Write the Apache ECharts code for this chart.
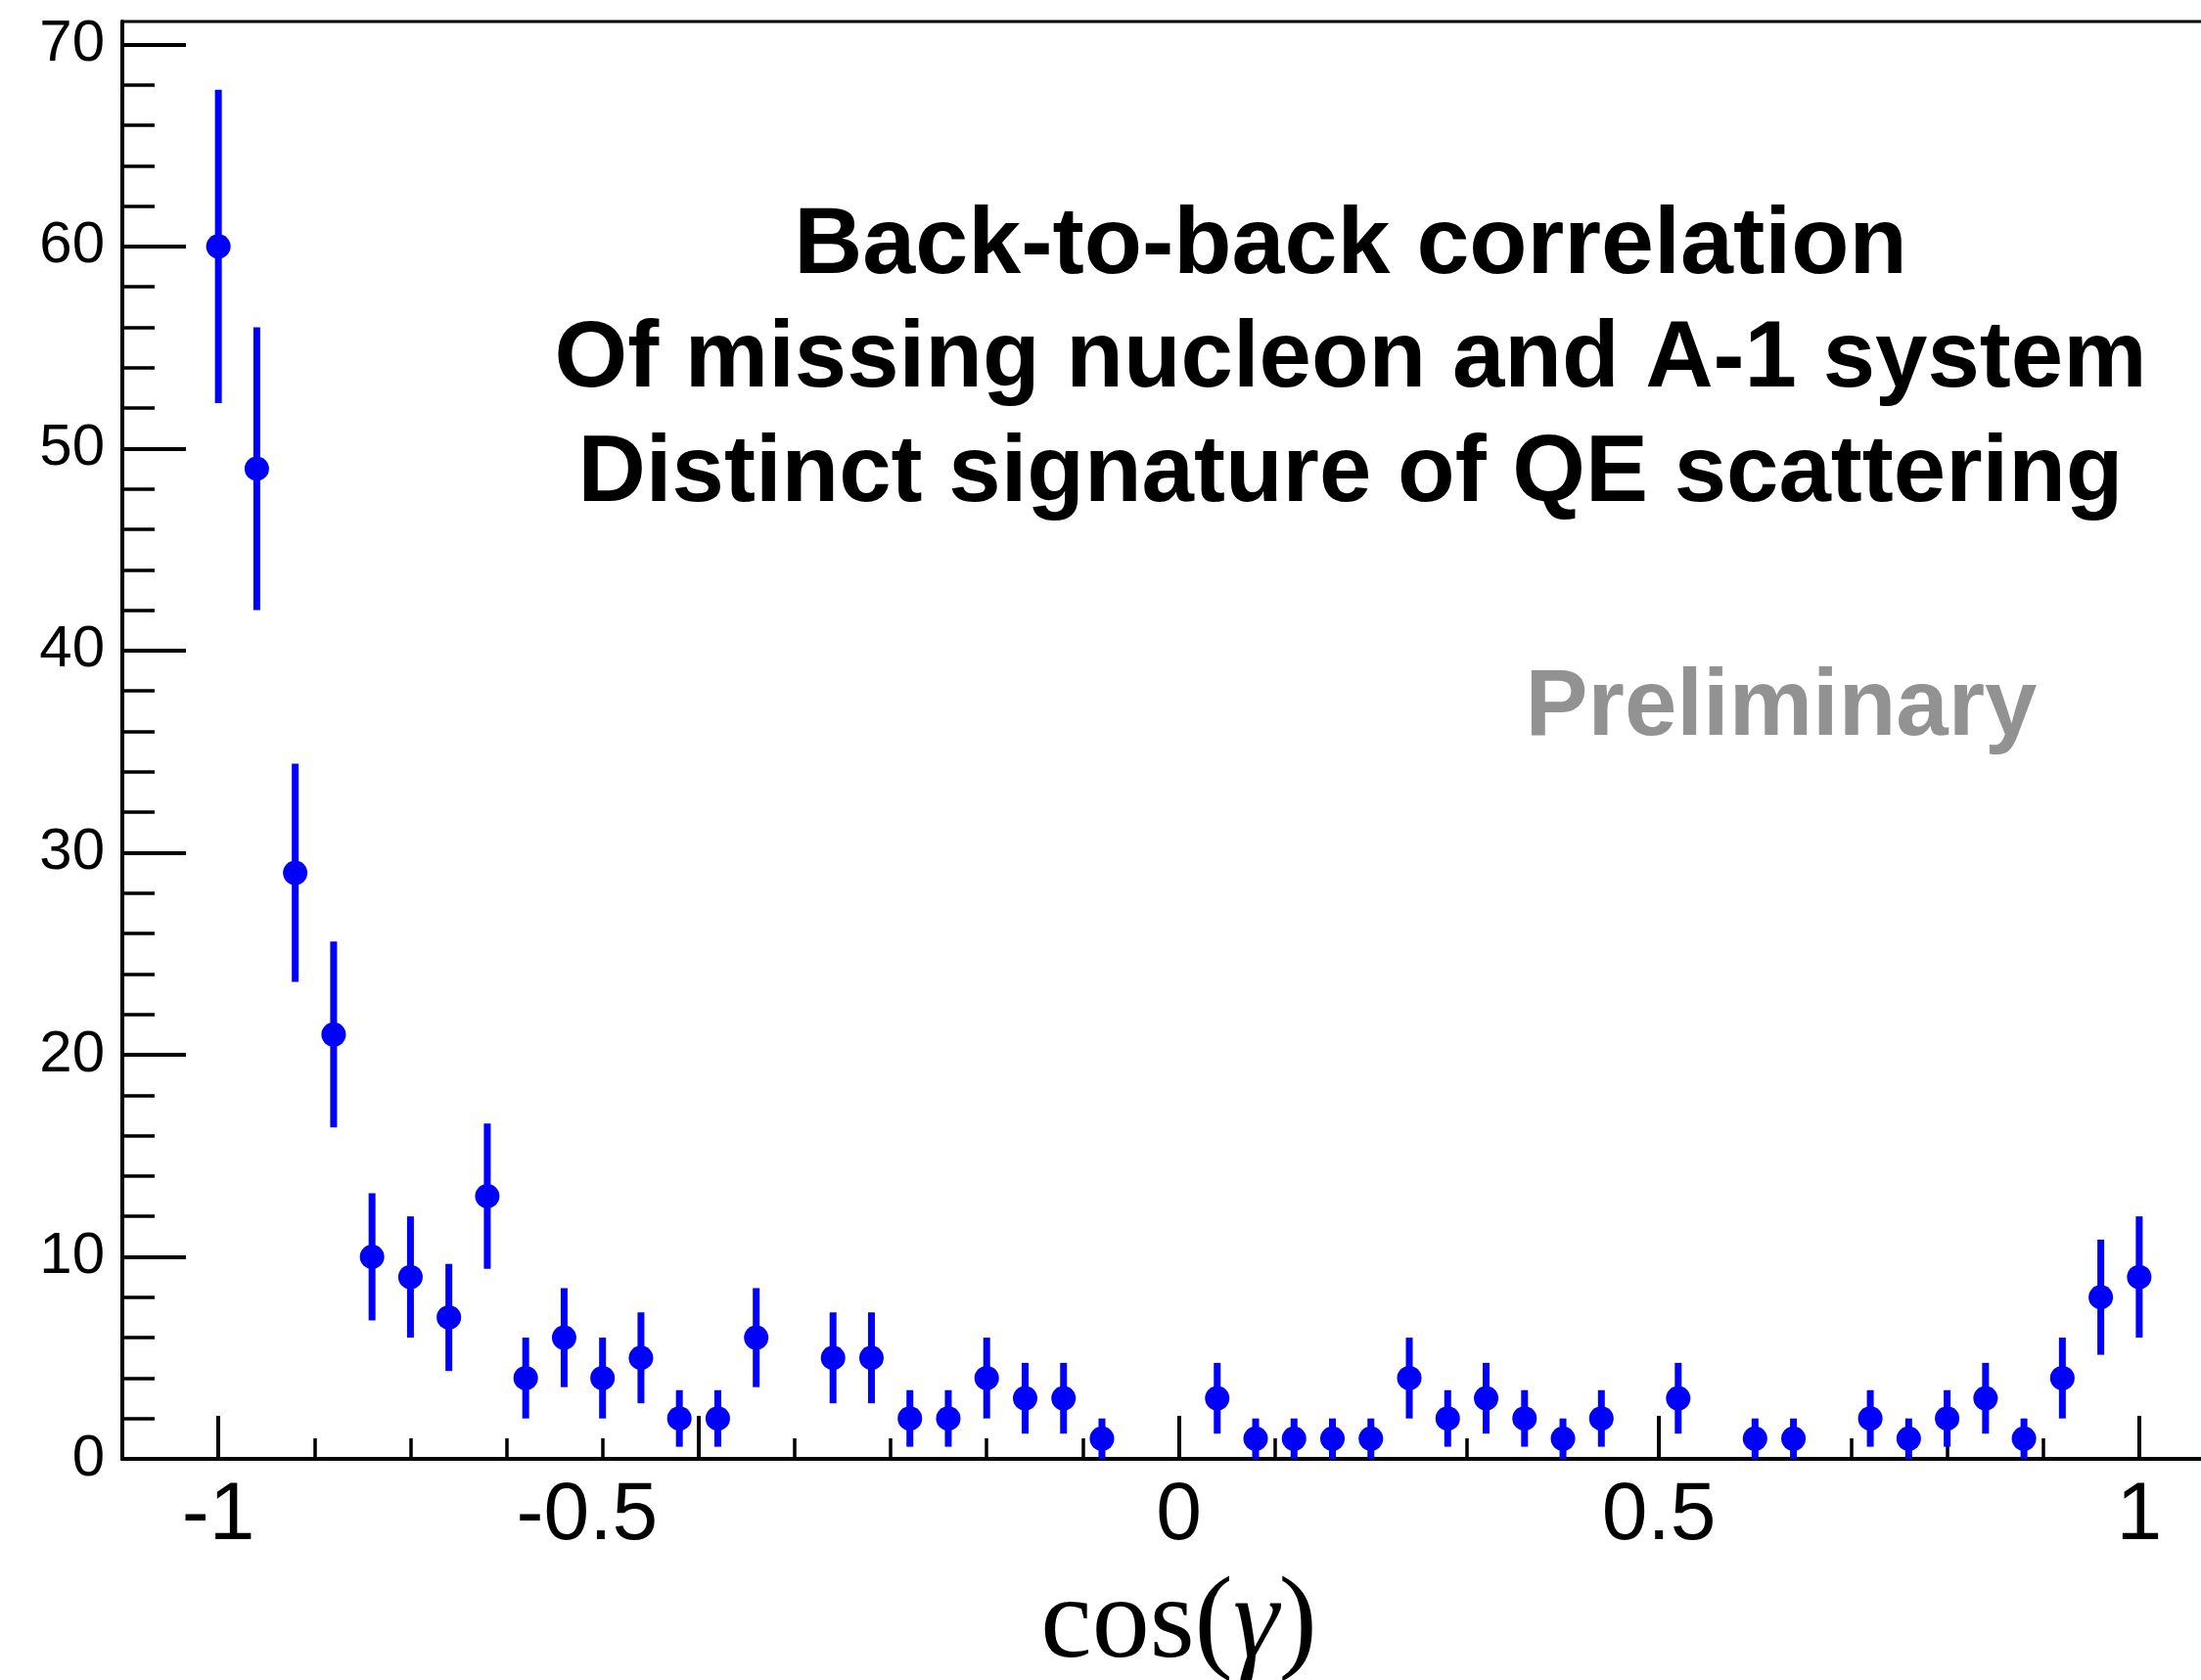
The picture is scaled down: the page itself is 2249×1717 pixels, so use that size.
<!DOCTYPE html>
<html>
<head>
<meta charset="utf-8">
<title>cos(γ) distribution</title>
<script src="https://cdn.jsdelivr.net/npm/echarts@6/dist/echarts.min.js"></script>
<style>
  html, body { margin: 0; padding: 0; background: #ffffff; }
  #chart { width: 2249px; height: 1717px; }
</style>
</head>
<body>
<div id="chart"></div>
<script>
// Bin centres of the cos(gamma) histogram
const binCenters = [
  -1.00, -0.96, -0.92, -0.88, -0.84, -0.80, -0.76, -0.72, -0.68, -0.64,
  -0.60, -0.56, -0.52, -0.48, -0.44, -0.40, -0.36, -0.32, -0.28, -0.24,
  -0.20, -0.16, -0.12, -0.08, -0.04,  0.00,  0.04,  0.08,  0.12,  0.16,
   0.20,  0.24,  0.28,  0.32,  0.36,  0.40,  0.44,  0.48,  0.52,  0.56,
   0.60,  0.64,  0.68,  0.72,  0.76,  0.80,  0.84,  0.88,  0.92,  0.96,
   1.00
];
// Counts per bin
const counts = [
  60, 49, 29, 21, 10,  9,  7, 13,  4,  6,
   4,  5,  2,  2,  6,  0,  5,  5,  2,  2,
   4,  3,  3,  1,  0,  0,  3,  1,  1,  1,
   1,  4,  2,  3,  2,  1,  2,  0,  3,  0,
   1,  1,  0,  2,  1,  2,  3,  1,  4,  8,
   9
];
// Statistical error (half-length of the bar) per bin
const errors = [
  7.75, 7.0, 5.4, 4.6, 3.15, 3.0, 2.65, 3.6, 2.0, 2.45,
  2.0, 2.25, 1.4, 1.4, 2.45, 0, 2.25, 2.25, 1.4, 1.4,
  2.0, 1.75, 1.75, 1.0, 0, 0, 1.75, 1.0, 1.0, 1.0,
  1.0, 2.0, 1.4, 1.75, 1.4, 1.0, 1.4, 0, 1.75, 0,
  1.0, 1.0, 0, 1.4, 1.0, 1.4, 1.75, 1.0, 2.0, 2.85,
  3.0
];

// Axis tick positions
const xMajorTicks = [-1, -0.5, 0, 0.5, 1];
const xMinorTicks = [-1, -0.9, -0.8, -0.7, -0.6, -0.5, -0.4, -0.3, -0.2, -0.1, 0,
                     0.1, 0.2, 0.3, 0.4, 0.5, 0.6, 0.7, 0.8, 0.9, 1];
const yMajorTicks = [0, 10, 20, 30, 40, 50, 60, 70];
const yMinorTicks = [0, 2, 4, 6, 8, 10, 12, 14, 16, 18, 20, 22, 24, 26, 28, 30, 32, 34,
                     36, 38, 40, 42, 44, 46, 48, 50, 52, 54, 56, 58, 60, 62, 64, 66, 68, 70];

const titleLines = [
  'Back-to-back correlation',
  'Of missing nucleon and A-1 system',
  'Distinct signature of QE scattering'
];
const watermark = 'Preliminary';

// Empty bins are not drawn
const points = [];
binCenters.forEach((x, i) => {
  if (counts[i] > 0) points.push([x, counts[i], errors[i]]);
});

const BLUE = '#0000ff';
const SANS = '"Liberation Sans", Arial, Helvetica, sans-serif';
const SERIF = '"Liberation Serif", "Times New Roman", Times, serif';

const chart = echarts.init(document.getElementById('chart'), null, { renderer: 'canvas' });

const option = {
  animation: false,
  backgroundColor: '#ffffff',
  grid: {
    left: 125, right: -35, top: 22, bottom: 226,
    show: true, borderColor: '#000', borderWidth: 3,
    backgroundColor: 'transparent',
    containLabel: false,
    outerBoundsMode: 'none'
  },
  xAxis: [
    {
      type: 'value', min: -1.1, max: 1.1, position: 'bottom',
      splitLine: { show: false },
      axisLine: { show: true, onZero: false, lineStyle: { color: '#000', width: 4 } },
      axisTick: { show: true, inside: true, length: 44, customValues: xMajorTicks,
                  lineStyle: { color: '#000', width: 4 } },
      axisLabel: {
        show: true, customValues: xMajorTicks, margin: 17,
        color: '#000', fontFamily: SANS, fontSize: 84,
        formatter: v => (v === -0.5 ? '{s|-0.5}' : String(v)),
        rich: { s: { fontFamily: SANS, fontSize: 84, color: '#000', padding: [0, 228, 0, 0] } }
      },
      name: '{r|cos(}{g|γ}{r|)}',
      nameLocation: 'middle', nameGap: 112,
      nameTextStyle: {
        color: '#000', fontFamily: SERIF, fontSize: 118,
        rich: {
          r: { fontFamily: SERIF, fontSize: 118, color: '#000' },
          g: { fontFamily: SERIF, fontSize: 118, color: '#000', fontStyle: 'italic' }
        }
      }
    },
    {
      type: 'value', min: -1.1, max: 1.1, position: 'bottom',
      splitLine: { show: false },
      axisLine: { show: false, onZero: false },
      axisTick: { show: true, inside: true, length: 21, customValues: xMinorTicks,
                  lineStyle: { color: '#000', width: 3.5 } },
      axisLabel: { show: false }
    }
  ],
  yAxis: [
    {
      type: 'value', min: 0, max: 71.13, position: 'left',
      splitLine: { show: false },
      axisLine: { show: true, onZero: false, lineStyle: { color: '#000', width: 4 } },
      axisTick: { show: true, inside: true, length: 65, customValues: yMajorTicks,
                  lineStyle: { color: '#000', width: 4 } },
      axisLabel: { show: true, customValues: yMajorTicks, margin: 18,
                   color: '#000', fontFamily: SANS, fontSize: 60 }
    },
    {
      type: 'value', min: 0, max: 71.13, position: 'left',
      splitLine: { show: false },
      axisLine: { show: false, onZero: false },
      axisTick: { show: true, inside: true, length: 33, customValues: yMinorTicks,
                  lineStyle: { color: '#000', width: 3.5 } },
      axisLabel: { show: false }
    }
  ],
  graphic: [
    { type: 'text', x: 1380, y: 252, silent: true,
      style: { text: titleLines[0], font: 'bold 97px ' + SANS, fill: '#000', align: 'center', verticalAlign: 'middle' } },
    { type: 'text', x: 1380, y: 369, silent: true,
      style: { text: titleLines[1], font: 'bold 96px ' + SANS, fill: '#000', align: 'center', verticalAlign: 'middle' } },
    { type: 'text', x: 1380, y: 486, silent: true,
      style: { text: titleLines[2], font: 'bold 96px ' + SANS, fill: '#000', align: 'center', verticalAlign: 'middle' } },
    { type: 'text', x: 1820, y: 725, silent: true,
      style: { text: watermark, font: 'bold 96px ' + SANS, fill: '#929292', align: 'center', verticalAlign: 'middle' } }
  ],
  series: [
    {
      // vertical error bars
      type: 'custom',
      xAxisIndex: 0, yAxisIndex: 0,
      data: points,
      encode: { x: 0, y: 1 },
      z: 2,
      renderItem: function (params, api) {
        const x = api.value(0), y = api.value(1), e = api.value(2);
        const top = api.coord([x, y + e]);
        const bot = api.coord([x, Math.max(0, y - e)]);
        return {
          type: 'line',
          shape: { x1: top[0], y1: top[1], x2: bot[0], y2: bot[1] },
          style: { stroke: BLUE, lineWidth: 7 }
        };
      }
    },
    {
      type: 'scatter',
      xAxisIndex: 0, yAxisIndex: 0,
      data: points.map(p => [p[0], p[1]]),
      symbol: 'circle', symbolSize: 25,
      itemStyle: { color: BLUE, opacity: 1 },
      z: 3
    }
  ]
};

chart.setOption(option);
</script>
</body>
</html>
